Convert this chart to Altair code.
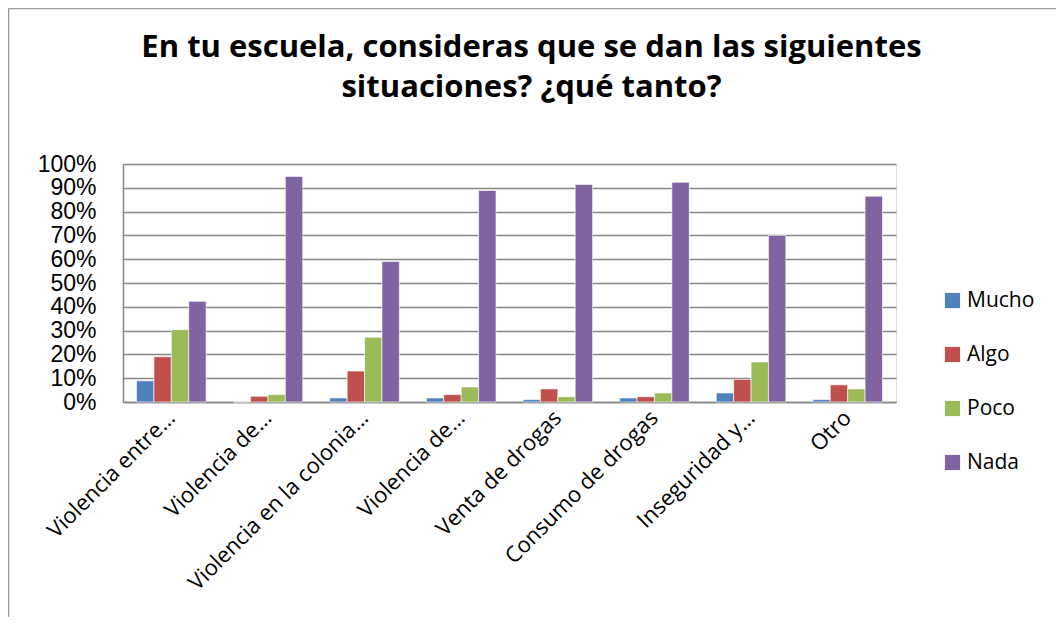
import altair as alt
import pandas as pd

categories = ["Violencia entre…", "Violencia de…", "Violencia en la colonia…", "Violencia de… ",
              "Venta de drogas", "Consumo de drogas", "Inseguridad y…", "Otro"]
series = ["Mucho", "Algo", "Poco", "Nada"]
mucho = [0.089, 0.0, 0.017, 0.017, 0.010, 0.017, 0.038, 0.010]
algo = [0.190, 0.024, 0.130, 0.031, 0.055, 0.022, 0.095, 0.072]
poco = [0.304, 0.031, 0.272, 0.063, 0.022, 0.038, 0.168, 0.055]
nada = [0.423, 0.948, 0.590, 0.889, 0.914, 0.923, 0.700, 0.865]
colors = ["#4F81BD", "#C0504D", "#9BBB59", "#8064A2"]

rows = []
for s, vals in zip(series, [mucho, algo, poco, nada]):
    for c, v in zip(categories, vals):
        rows.append({"cat": c, "serie": s, "val": v})
df = pd.DataFrame(rows)

bars = alt.Chart(df).mark_bar(stroke="white", strokeWidth=0.6).encode(
    x=alt.X("cat:N", sort=categories, title=None,
            scale=alt.Scale(paddingInner=0.28, paddingOuter=0.14),
            axis=alt.Axis(labelAngle=-45, labelFont="Open Sans", labelFontSize=22,
                          labelColor="black", labelAlign="right", labelBaseline="middle",
                          labelPadding=12, ticks=False, domainColor="#868686",
                          domainWidth=1.5, labelLimit=400, labelOverlap=False,
                          labelExpr="trim(datum.label)")),
    xOffset=alt.XOffset("serie:N", sort=series, scale=alt.Scale(paddingInner=0)),
    y=alt.Y("val:Q", title=None,
            scale=alt.Scale(domain=[0, 1], nice=False),
            axis=alt.Axis(format=".0%", values=[i / 10 for i in range(11)],
                          labelFont="Liberation Sans", labelFontSize=23,
                          labelColor="black", labelPadding=27, ticks=False,
                          labelOverlap=False, labelBound=False,
                          domainColor="#868686", domainWidth=1.5,
                          gridColor="#868686", gridWidth=1.5)),
    color=alt.Color("serie:N", sort=series, scale=alt.Scale(domain=series, range=colors),
                    legend=alt.Legend(title=None, orient="none", legendX=819, legendY=126,
                                      symbolType="square", symbolSize=230,
                                      symbolStrokeWidth=0, labelFont="Open Sans",
                                      labelFontSize=21, labelColor="black",
                                      rowPadding=32, labelOffset=4)),
)

frame_df = pd.DataFrame({"k": [0]})
left_border = alt.Chart(frame_df).mark_rule(color="#9a9a9a", strokeWidth=1.5).encode(
    x=alt.value(-114.5), y=alt.value(-155.5), y2=alt.value(470))
top_border = alt.Chart(frame_df).mark_rule(color="#9a9a9a", strokeWidth=1.5).encode(
    y=alt.value(-155.5), x=alt.value(-114.5), x2=alt.value(940))

chart = alt.layer(bars, left_border, top_border).properties(
    width=773, height=238,
    title=alt.TitleParams(
        ["En tu escuela, consideras que se dan las siguientes", "situaciones? ¿qué tanto?"],
        font="Open Sans", fontSize=31, fontWeight="bold", color="black",
        anchor="middle", dx=22, offset=-96, lineHeight=40),
    autosize=alt.AutoSizeParams(type="none"),
    padding={"left": 115, "top": 156, "right": 160, "bottom": 215},
).configure_view(stroke=None).configure(background="white")

chart.save("out.html", embed_options={"renderer": "svg", "actions": False})
